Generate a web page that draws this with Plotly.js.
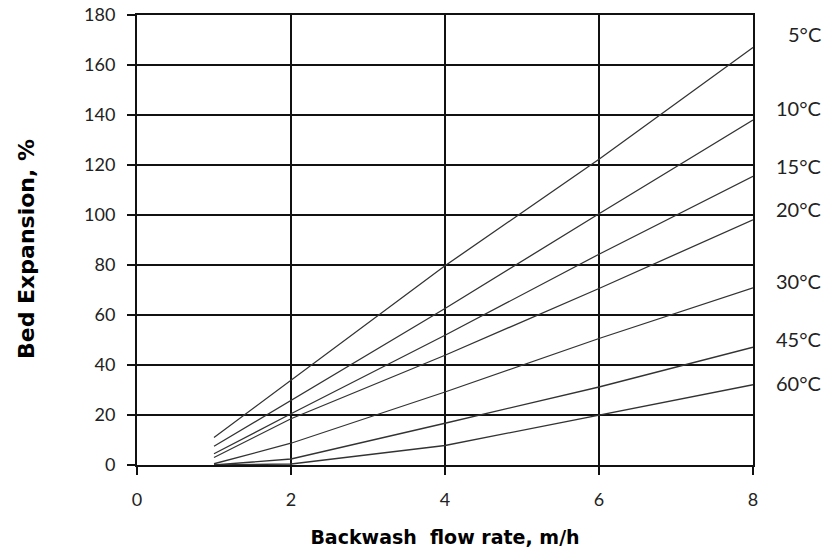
<!DOCTYPE html>
<html>
<head>
<meta charset="utf-8">
<script src="https://cdn.plot.ly/plotly-3.0.1.min.js"></script>
<style>html,body{margin:0;padding:0;background:#fff;}#chart{width:827px;height:554px;}</style>
</head>
<body>
<div id="chart"></div>
<script>
// Backwash flow rate, m/h
const flowRate = [1, 2, 4, 6, 8];
// Temperature curves: bed expansion %
const temps = ["5°C", "10°C", "15°C", "20°C", "30°C", "45°C", "60°C"];
const exp5  = [11, 34, 79.7, 122.3, 167];
const exp10 = [7.5, 25.8, 62.6, 100.5, 138];
const exp15 = [4.5, 20.5, 51.9, 84.3, 115.5];
const exp20 = [3, 18.5, 43.9, 70.6, 98.1];
const exp30 = [0.5, 8.7, 29.2, 50.6, 70.9];
const exp45 = [0, 2.4, 16.7, 31.2, 47.1];
const exp60 = [0, 0.4, 7.8, 19.8, 32.1];
const series = [exp5, exp10, exp15, exp20, exp30, exp45, exp60];
// label anchor heights (axis units) for right-hand temperature labels
const labelY = [172.4, 142.7, 119.8, 102.5, 73.6, 50.3, 32.7];
const yTitle = 'Bed Expansion, %';
const xTitle = 'Backwash  flow rate, m/h';

const traces = series.map((s, i) => ({
  x: flowRate, y: s, type: 'scatter', mode: 'lines', name: temps[i],
  line: {color: '#333333', width: 1.3}, hoverinfo: 'x+y+name'
}));

const FONT = 'Lato, "Open Sans", sans-serif';
const TITLE_FONT = '"DejaVu Sans", sans-serif';

const annotations = temps.map((t, i) => ({
  xref: 'paper', yref: 'y', x: 1.0 + 70/616, y: labelY[i], text: t,
  showarrow: false, xanchor: 'right', yanchor: 'middle',
  font: {family: FONT, size: 20, color: '#222'}
}));
annotations.push({
  xref: 'paper', yref: 'paper', x: -(137 - 26) / 616, y: (554 - 89 - 249) / 450,
  text: yTitle, textangle: -90, showarrow: false, xanchor: 'center', yanchor: 'middle',
  font: {family: TITLE_FONT, size: 22, color: '#000', weight: 'bold'}
});

const axisCommon = {
  showline: true, mirror: true, linecolor: '#111', linewidth: 2,
  showgrid: true, gridcolor: '#111', gridwidth: 2,
  zeroline: false, ticks: 'outside', ticklen: 8, tickwidth: 2, tickcolor: '#111',
  tickfont: {family: FONT, size: 18, color: '#222'}
};

const layout = {
  width: 827, height: 554,
  margin: {l: 137, r: 74, t: 15, b: 89},
  paper_bgcolor: '#fff', plot_bgcolor: '#fff',
  showlegend: false,
  xaxis: Object.assign({}, axisCommon, {
    range: [0, 8], tick0: 0, dtick: 2, ticklabelstandoff: 9,
    title: {text: xTitle, standoff: 22,
      font: {family: TITLE_FONT, size: 19, color: '#000', weight: 'bold'}}
  }),
  yaxis: Object.assign({}, axisCommon, {
    range: [0, 180], tick0: 0, dtick: 20, ticklabelstandoff: 8
  }),
  annotations: annotations
};

Plotly.newPlot('chart', traces, layout, {displayModeBar: false, staticPlot: true});
</script>
</body>
</html>
